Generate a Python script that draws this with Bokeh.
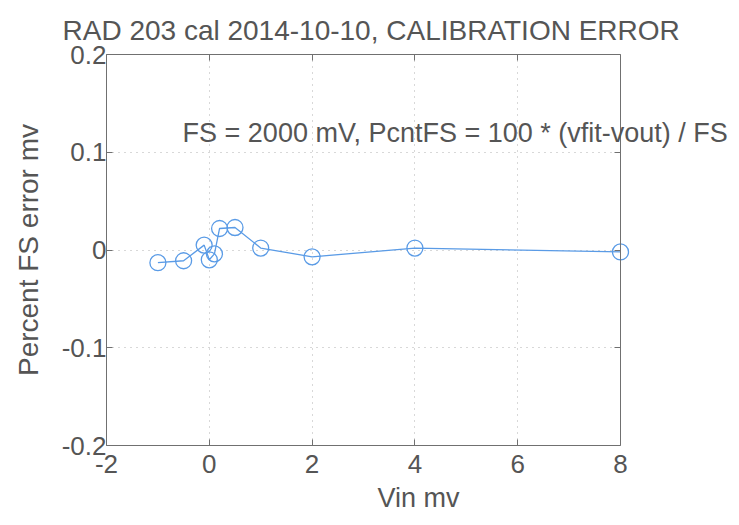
from bokeh.plotting import figure
from bokeh.models import LinearAxis, Label, FixedTicker, Range1d, BoxAnnotation
from bokeh.embed import file_html
from bokeh.resources import INLINE

vin = [-1, -0.5, -0.1, 0, 0.1, 0.2, 0.5, 1, 2, 4, 8]
pcnt_fs_err = [-0.013, -0.011, 0.005, -0.010, -0.004, 0.022, 0.023, 0.002, -0.007, 0.002, -0.002]
x_ticks = [-2, 0, 2, 4, 6, 8]
y_ticks = [-0.2, -0.1, 0, 0.1, 0.2]
y_tick_labels = ["-0.2", "-0.1", "0", "0.1", "0.2"]

FONT = "Liberation Sans"
TXT = "#555555"
AX = "#707070"
BLUE = "#5a9be6"

# frame: x from -2..8 spans 514 px; extend the frame to the right so the
# annotation text is not clipped, and draw the box edge at x=8 with an axis.
px_per_unit = 51.4
frame_w = 624
x_end = -2 + frame_w / px_per_unit

p = figure(frame_width=frame_w, frame_height=391, output_backend="svg", toolbar_location=None,
           x_range=Range1d(-2, x_end), y_range=Range1d(-0.2, 0.2),
           min_border_left=106, min_border_right=0,
           min_border_top=54, min_border_bottom=80,
           title="RAD 203 cal 2014-10-10, CALIBRATION ERROR")

p.title.text_font = FONT
p.title.text_font_size = "28px"
p.title.text_font_style = "normal"
p.title.text_color = TXT
p.title.align = "left"
p.title.offset = -44
p.title.standoff = 18

p.outline_line_color = None
p.background_fill_color = "white"
p.border_fill_color = "white"

for ax in (p.xaxis[0], p.yaxis[0]):
    ax.axis_line_color = AX
    ax.major_tick_line_color = AX
    ax.major_tick_in = 6
    ax.major_tick_out = 0
    ax.minor_tick_line_color = None
    ax.major_label_text_font = FONT
    ax.major_label_text_font_size = "26px"
    ax.major_label_text_color = TXT
    ax.axis_label_text_font = FONT
    ax.axis_label_text_font_style = "normal"
    ax.axis_label_text_color = TXT

p.xaxis[0].axis_label_text_font_size = "27px"
p.yaxis[0].axis_label_text_font_size = "28px"
p.xaxis[0].ticker = FixedTicker(ticks=x_ticks)
p.xaxis[0].bounds = (-2, 8)
p.yaxis[0].ticker = FixedTicker(ticks=y_ticks)
p.xaxis[0].major_label_overrides = {t: str(t) for t in x_ticks}
p.yaxis[0].major_label_overrides = dict(zip(y_ticks, y_tick_labels))
p.xaxis[0].axis_label = "Vin mv"
p.yaxis[0].axis_label = "Percent FS error mv"
p.xaxis[0].major_label_standoff = 9
p.yaxis[0].major_label_standoff = 0
p.xaxis[0].axis_label_standoff = 7
p.yaxis[0].axis_label_standoff = 15

# mirrored tick axes (box style)
top_ax = LinearAxis(ticker=FixedTicker(ticks=x_ticks), bounds=(-2, 8),
                    major_label_text_font_size="0px", major_label_standoff=0,
                    major_tick_in=6, major_tick_out=0, minor_tick_line_color=None,
                    axis_line_color=AX, major_tick_line_color=AX, major_label_text_color=None)
p.add_layout(top_ax, "above")
right_edge = LinearAxis(ticker=FixedTicker(ticks=y_ticks), fixed_location=8,
                        major_label_text_font_size="0px", major_label_standoff=0,
                        major_tick_in=0, major_tick_out=6, minor_tick_line_color=None,
                        axis_line_color=AX, major_tick_line_color=AX, major_label_text_color=None)
p.add_layout(right_edge, "left")

p.grid.grid_line_color = "#b0b0b0"
p.grid.grid_line_dash = "1 5"
p.grid.grid_line_width = 1
p.xgrid.ticker = FixedTicker(ticks=x_ticks)
p.ygrid.ticker = FixedTicker(ticks=y_ticks)

# blank out the grid to the right of the plot box
p.add_layout(BoxAnnotation(left=8, fill_color="white", fill_alpha=1.0,
                           line_color=None, level="underlay"))

p.line(vin, pcnt_fs_err, line_color=BLUE, line_width=1.3)
p.scatter(vin, pcnt_fs_err, marker="circle", size=16, fill_color=None,
          line_color=BLUE, line_width=1.3)

note = Label(x=-0.52, y=0.120, text="FS = 2000 mV, PcntFS = 100 * (vfit-vout) / FS",
             text_font=FONT, text_font_size="27px", text_color=TXT,
             text_baseline="middle", text_align="left")
p.add_layout(note)

open("out.html", "w").write(file_html(p, INLINE))
